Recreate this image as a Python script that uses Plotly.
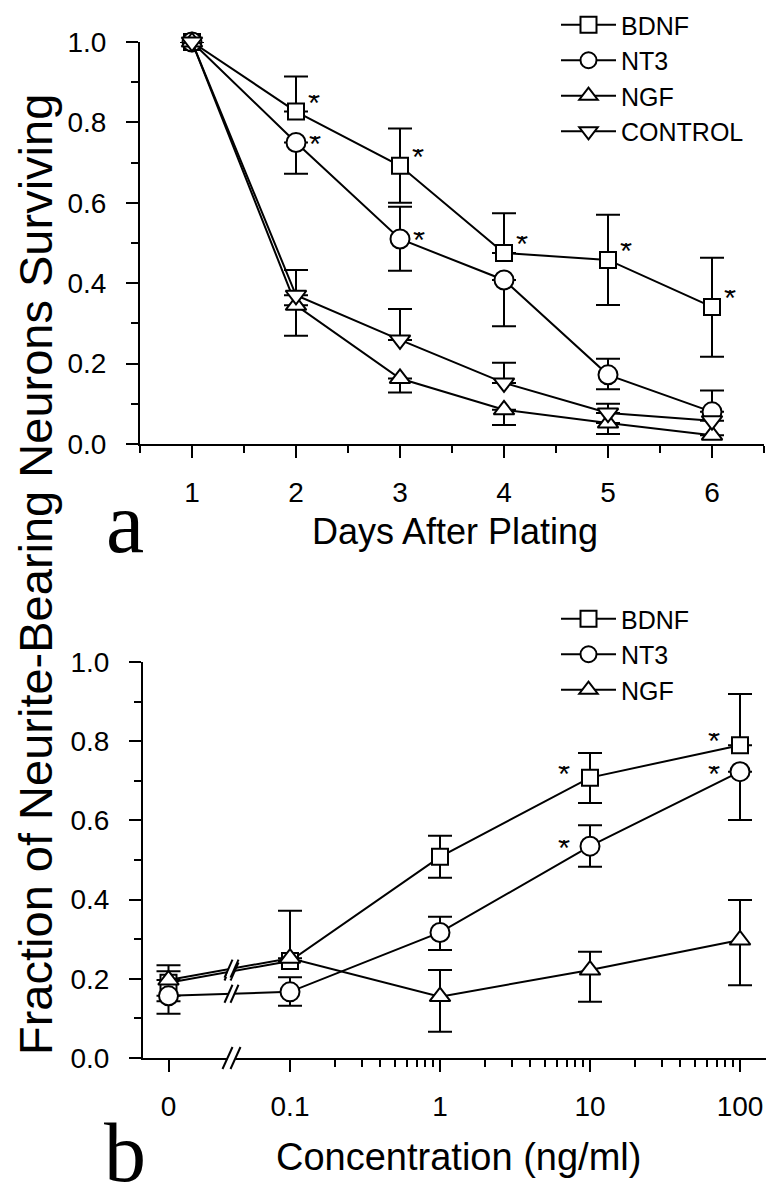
import math
import plotly.graph_objects as go

# ---------------- data: panel a (survival vs days) ----------------
days = [1, 2, 3, 4, 5, 6]
day_ticklabels = ["1", "2", "3", "4", "5", "6"]

bdnf_a = [1.0, 0.827, 0.692, 0.475, 0.458, 0.341]
bdnf_a_up = [0.0, 0.087, 0.093, 0.099, 0.112, 0.122]
bdnf_a_dn = [0.0, 0.0, 0.092, 0.0, 0.112, 0.124]

nt3_a = [1.0, 0.750, 0.510, 0.408, 0.172, 0.080]
nt3_a_up = [0.0, 0.0, 0.080, 0.0, 0.040, 0.053]
nt3_a_dn = [0.0, 0.078, 0.079, 0.115, 0.036, 0.0]

ngf_a = [1.0, 0.345, 0.163, 0.085, 0.052, 0.022]
ngf_a_up = [0.0, 0.0, 0.0, 0.0, 0.0, 0.0]
ngf_a_dn = [0.0, 0.076, 0.035, 0.038, 0.027, 0.0]

ctrl_a = [1.0, 0.370, 0.259, 0.152, 0.077, 0.058]
ctrl_a_up = [0.0, 0.063, 0.077, 0.050, 0.023, 0.0]
ctrl_a_dn = [0.0, 0.0, 0.0, 0.0, 0.0, 0.0]

sig_a_bdnf = [False, True, True, True, True, True]
sig_a_nt3 = [False, True, True, False, False, False]

# ---------------- data: panel b (fraction vs concentration) ----------------
conc = [0, 0.1, 1, 10, 100]
conc_ticklabels = ["0", "0.1", "1", "10", "100"]

bdnf_b = [0.190, 0.245, 0.508, 0.708, 0.790]
bdnf_b_up = [0.029, 0.0, 0.053, 0.062, 0.129]
bdnf_b_dn = [0.047, 0.0, 0.053, 0.064, 0.0]

nt3_b = [0.157, 0.167, 0.317, 0.535, 0.723]
nt3_b_up = [0.0, 0.037, 0.040, 0.053, 0.0]
nt3_b_dn = [0.045, 0.035, 0.044, 0.052, 0.122]

ngf_b = [0.197, 0.252, 0.155, 0.222, 0.298]
ngf_b_up = [0.037, 0.120, 0.067, 0.046, 0.101]
ngf_b_dn = [0.0, 0.0, 0.089, 0.080, 0.114]

sig_b_bdnf = [False, False, False, True, True]
sig_b_nt3 = [False, False, False, True, True]

# ---------------- layout constants ----------------
PAGE_W, PAGE_H = 774, 1200
OFF = 8                      # default page margin around the plot div
W, H = PAGE_W - OFF, PAGE_H - OFF
ZERO_POS = -1.81   # where the "0" concentration sits on the broken log axis
BREAK_POS = -1.39  # position of the axis break
FONT = "Liberation Sans, Arial, Helvetica, sans-serif"
SERIF = "Liberation Serif, Times New Roman, serif"


def px(x):
    return (x - OFF) / W


def py(y):
    return 1 - (y - OFF) / H


def cpos(c):
    return math.log10(c) if c > 0 else ZERO_POS


xb = [cpos(c) for c in conc]

fig = go.Figure()


def add_series(x, y, up, dn, name, symbol, size, xa, ya, legend):
    fig.add_trace(go.Scatter(
        x=x, y=y, name=name, mode="lines+markers",
        xaxis=xa, yaxis=ya, legend=legend, cliponaxis=False,
        line=dict(color="black", width=2),
        marker=dict(symbol=symbol, size=size, color="white",
                    line=dict(color="black", width=2)),
        error_y=dict(type="data", symmetric=False, array=up, arrayminus=dn,
                     color="black", thickness=2, width=12),
    ))


add_series(days, bdnf_a, bdnf_a_up, bdnf_a_dn, "BDNF", "square", 16, "x", "y", "legend")
add_series(days, nt3_a, nt3_a_up, nt3_a_dn, "NT3", "circle", 19, "x", "y", "legend")
add_series(days, ngf_a, ngf_a_up, ngf_a_dn, "NGF", "triangle-up", 18, "x", "y", "legend")
add_series(days, ctrl_a, ctrl_a_up, ctrl_a_dn, "CONTROL", "triangle-down", 18, "x", "y", "legend")

add_series(xb, bdnf_b, bdnf_b_up, bdnf_b_dn, "BDNF", "square", 16, "x2", "y2", "legend2")
add_series(xb, nt3_b, nt3_b_up, nt3_b_dn, "NT3", "circle", 19, "x2", "y2", "legend2")
add_series(xb, ngf_b, ngf_b_up, ngf_b_dn, "NGF", "triangle-up", 18, "x2", "y2", "legend2")

annotations = []
shapes = []

# significance asterisks (series, axis refs, pixel offsets)
star = dict(text="*", xanchor="center", yanchor="middle", showarrow=False,
            width=14, height=16, valign="middle",
            font=dict(family=FONT, size=31, color="black"))
star_sets = [
    (days, bdnf_a, sig_a_bdnf, "x", "y", 18, 9),
    (days, nt3_a, sig_a_nt3, "x", "y", 19, -1),
    (xb, bdnf_b, sig_b_bdnf, "x2", "y2", -26, 4),
    (xb, nt3_b, sig_b_nt3, "x2", "y2", -26, -2),
]
for xs, ys, sig, xr, yr, dx, dy in star_sets:
    for xv, yv, s in zip(xs, ys, sig):
        if s:
            annotations.append(dict(star, x=xv, y=yv, xref=xr, yref=yr,
                                    xshift=dx, yshift=dy))

# break marks on the data lines between 0 and 0.1
frac = (BREAK_POS - xb[0]) / (xb[1] - xb[0])
for ys in [bdnf_b, nt3_b, ngf_b]:
    yv = ys[0] + frac * (ys[1] - ys[0])
    shapes.append(dict(type="line", xref="x2", yref="y2", xsizemode="pixel", ysizemode="pixel",
                       xanchor=BREAK_POS, yanchor=yv, x0=-3, x1=3, y0=-9, y1=9,
                       line=dict(color="white", width=5)))
    for dx in (-3, 3):
        shapes.append(dict(type="line", xref="x2", yref="y2", xsizemode="pixel", ysizemode="pixel",
                           xanchor=BREAK_POS, yanchor=yv, x0=dx - 4, x1=dx + 4, y0=-9, y1=9,
                           line=dict(color="black", width=2)))

# break mark on the x axis of panel b (paper y so it is not clipped)
Y2_BOTTOM = py(1058)
shapes.append(dict(type="line", xref="x2", yref="paper", xsizemode="pixel", ysizemode="pixel",
                   xanchor=BREAK_POS, yanchor=Y2_BOTTOM, x0=-4, x1=4, y0=0, y1=0,
                   line=dict(color="white", width=5)))
for dx in (-4, 4):
    shapes.append(dict(type="line", xref="x2", yref="paper", xsizemode="pixel", ysizemode="pixel",
                       xanchor=BREAK_POS, yanchor=Y2_BOTTOM, x0=dx - 5, x1=dx + 5, y0=-11, y1=11,
                       line=dict(color="black", width=2)))

# titles and panel letters
ctr = dict(xref="paper", yref="paper", xanchor="center", yanchor="middle", showarrow=False)
annotations += [
    dict(ctr, text="Days After Plating", x=px(455), y=py(531),
         font=dict(family=FONT, size=36, color="black")),
    dict(ctr, text="Concentration (ng/ml)", x=px(458), y=py(1157),
         font=dict(family=FONT, size=38, color="black")),
    dict(ctr, text="Fraction of Neurite-Bearing Neurons Surviving", x=px(35), y=py(575),
         textangle=-90, font=dict(family=FONT, size=47, color="black")),
    dict(ctr, text="a", x=px(125), y=py(523),
         font=dict(family=SERIF, size=86, color="black")),
    dict(ctr, text="b", x=px(125), y=py(1152),
         font=dict(family=SERIF, size=84, color="black")),
]

axis_common = dict(showline=True, linecolor="black", linewidth=2, ticks="outside",
                   ticklen=12, tickwidth=2, tickcolor="black", showgrid=False,
                   zeroline=False, automargin=False,
                   tickfont=dict(family=FONT, size=28, color="black"))

yticks = [0.0, 0.2, 0.4, 0.6, 0.8, 1.0]
ytext = ["0.0", "0.2", "0.4", "0.6", "0.8", "1.0"]
yminor = dict(ticks="outside", ticklen=7, tickwidth=2, tickcolor="black",
              tickmode="array", tickvals=[0.1, 0.3, 0.5, 0.7, 0.9])

minor_b = []
for dec in (-1, 0, 1):
    for m in range(2, 10):
        minor_b.append(dec + math.log10(m))

fig.update_layout(
    width=W, height=H, margin=dict(l=0, r=0, t=0, b=0, autoexpand=False),
    paper_bgcolor="white", plot_bgcolor="white",
    showlegend=True,
    xaxis=dict(axis_common, domain=[px(140), px(764)], range=[0.5, 6.5], anchor="y",
               tickmode="array", tickvals=days, ticktext=day_ticklabels,
               ticklabelstandoff=10,
               minor=dict(ticks="outside", ticklen=7, tickwidth=2, tickcolor="black",
                          tickmode="array", tickvals=[0.5, 1.5, 2.5, 3.5, 4.5, 5.5, 6.5])),
    yaxis=dict(axis_common, domain=[py(444), py(42)], range=[0, 1], anchor="x",
               tickmode="array", tickvals=yticks, ticktext=ytext, ticklabelstandoff=14,
               minor=yminor),
    xaxis2=dict(axis_common, domain=[px(143), px(768)],
                range=[(143 - 440) / 150.0, (768 - 440) / 150.0], anchor="y2",
                tickmode="array", tickvals=xb, ticktext=conc_ticklabels,
                ticklabelstandoff=10,
                minor=dict(ticks="outside", ticklen=7, tickwidth=2, tickcolor="black",
                           tickmode="array", tickvals=minor_b)),
    yaxis2=dict(axis_common, domain=[py(1058), py(662)], range=[0, 1], anchor="x2",
                tickmode="array", tickvals=yticks, ticktext=ytext, ticklabelstandoff=14,
                minor=yminor),
    legend=dict(x=px(556), y=py(2), xanchor="left", yanchor="top", bgcolor="rgba(0,0,0,0)",
                font=dict(family=FONT, size=25, color="black"), itemwidth=55,
                tracegroupgap=0),
    legend2=dict(x=px(556), y=py(596), xanchor="left", yanchor="top",
                 bgcolor="rgba(0,0,0,0)",
                 font=dict(family=FONT, size=25, color="black"), itemwidth=55,
                 tracegroupgap=0),
    annotations=annotations,
    shapes=shapes,
)

fig.write_html("out.html")
